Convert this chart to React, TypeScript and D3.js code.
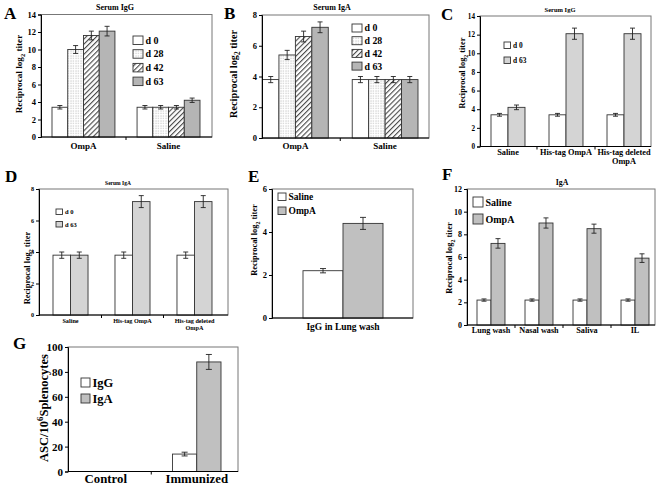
import React, { useEffect, useRef } from "react";
import * as d3 from "d3";

// ---------- DATA ----------
const seriesAB = ["d 0", "d 28", "d 42", "d 63"];
const groupsAB = ["OmpA", "Saline"];
const aValues = [[3.4, 10.0, 11.6, 12.1], [3.4, 3.4, 3.4, 4.2]];
const aErrors = [[0.2, 0.45, 0.5, 0.55], [0.2, 0.2, 0.2, 0.25]];
const bValues = [[3.8, 5.4, 6.6, 7.2], [3.8, 3.8, 3.8, 3.8]];
const bErrors = [[0.2, 0.3, 0.35, 0.35], [0.2, 0.2, 0.2, 0.2]];

const seriesCD = ["d 0", "d 63"];
const groupsCD = ["Saline", "His-tag OmpA", "His-tag deleted|OmpA"];
const cValues = [[3.4, 4.2], [3.4, 12.1], [3.4, 12.1]];
const cErrors = [[0.15, 0.25], [0.15, 0.6], [0.15, 0.6]];
const dValues = [[3.8, 3.8], [3.8, 7.2], [3.8, 7.2]];
const dErrors = [[0.2, 0.2], [0.2, 0.38], [0.2, 0.38]];

const seriesEF = ["Saline", "OmpA"];
const groupsE = ["IgG in Lung wash"];
const eValues = [[2.2, 4.4]];
const eErrors = [[0.1, 0.28]];
const groupsF = ["Lung wash", "Nasal wash", "Saliva", "IL"];
const fValues = [[2.2, 7.2], [2.2, 9.0], [2.2, 8.5], [2.2, 5.9]];
const fErrors = [[0.1, 0.42], [0.1, 0.45], [0.1, 0.4], [0.1, 0.38]];

const seriesG = ["IgG", "IgA"];
const groupsG = ["Control", "Immunized"];
const gValues = [[0, 0], [14, 88]];
const gErrors = [[0, 0], [1.5, 6]];

// ---------- LAYOUT ----------
const FONT = "'Liberation Serif', 'Times New Roman', serif";

type Panel = {
  letter: string; lx: number; ly: number; lsize: number;
  title?: string; tx?: number; ty?: number; tsize?: number;
  x0: number; x1: number; yTop: number; yBot: number; yMax: number; yStep: number;
  groups: string[]; series: string[]; values: number[][]; errors: number[][]; fills: string[];
  band: [number, number]; pad: number; cap: number;
  tickFont: number; ylab: "log" | "asc"; ylx: number; yly: number; ylsize: number;
  xly: number; xlsize: number; xlLine: number;
  leg: { x: number; y: number; dy: number; bw: number; bh: number; fs: number };
};

const panels: Panel[] = [
  {
    letter: "A", lx: 4, ly: 19, lsize: 17, title: "Serum IgG", tx: 115, ty: 10, tsize: 8,
    x0: 41, x1: 212, yTop: 14.5, yBot: 137, yMax: 14, yStep: 2,
    groups: groupsAB, series: seriesAB, values: aValues, errors: aErrors,
    fills: ["#fff", "url(#dots)", "url(#hatch)", "#b5b5b5"],
    band: [52, 200], pad: 0.26, cap: 5,
    tickFont: 8.5, ylab: "log", ylx: 22, yly: 74, ylsize: 9.2,
    xly: 149, xlsize: 9, xlLine: 10,
    leg: { x: 133, y: 36, dy: 13.7, bw: 10, bh: 8.5, fs: 10 },
  },
  {
    letter: "B", lx: 224, ly: 19, lsize: 17, title: "Serum IgA", tx: 332, ty: 10, tsize: 8,
    x0: 262, x1: 429, yTop: 15, yBot: 138, yMax: 8, yStep: 2,
    groups: groupsAB, series: seriesAB, values: bValues, errors: bErrors,
    fills: ["#fff", "url(#dots)", "url(#hatch)", "#b5b5b5"],
    band: [262.5, 418], pad: 0.267, cap: 5,
    tickFont: 8.5, ylab: "log", ylx: 237, yly: 74, ylsize: 10.3,
    xly: 149, xlsize: 9, xlLine: 10,
    leg: { x: 352, y: 24, dy: 12.7, bw: 10, bh: 8, fs: 9.8 },
  },
  {
    letter: "C", lx: 441, ly: 20, lsize: 17, title: "Serum IgG", tx: 560, ty: 12, tsize: 6.5,
    x0: 480, x1: 651, yTop: 16, yBot: 146.5, yMax: 14, yStep: 2,
    groups: groupsCD, series: seriesCD, values: cValues, errors: cErrors,
    fills: ["#fff", "#d4d4d4"],
    band: [491, 641], pad: 0.414, cap: 5,
    tickFont: 7.2, ylab: "log", ylx: 465, yly: 73, ylsize: 8.3,
    xly: 155, xlsize: 8.3, xlLine: 9,
    leg: { x: 504, y: 42, dy: 15, bw: 6.5, bh: 6.5, fs: 7.4 },
  },
  {
    letter: "D", lx: 5, ly: 182, lsize: 17, title: "Serum IgA", tx: 118, ty: 185, tsize: 5.5,
    x0: 39, x1: 228, yTop: 189, yBot: 315, yMax: 8, yStep: 2,
    groups: groupsCD, series: seriesCD, values: dValues, errors: dErrors,
    fills: ["#fff", "#d4d4d4"],
    band: [53, 212], pad: 0.435, cap: 5,
    tickFont: 6.2, ylab: "log", ylx: 30, yly: 268, ylsize: 8.5,
    xly: 323, xlsize: 6.2, xlLine: 7,
    leg: { x: 56, y: 209, dy: 12.5, bw: 6.5, bh: 5.5, fs: 6.5 },
  },
  {
    letter: "E", lx: 248, ly: 182, lsize: 17,
    x0: 272, x1: 413, yTop: 189, yBot: 318, yMax: 6, yStep: 2,
    groups: groupsE, series: seriesEF, values: eValues, errors: eErrors,
    fills: ["#fff", "#c0c0c0"],
    band: [303, 383], pad: 0, cap: 6,
    tickFont: 8.5, ylab: "log", ylx: 257, yly: 240, ylsize: 8.4,
    xly: 330, xlsize: 9.5, xlLine: 10,
    leg: { x: 278, y: 193, dy: 14, bw: 8, bh: 7.5, fs: 9.5 },
  },
  {
    letter: "F", lx: 442, ly: 180, lsize: 17, title: "IgA", tx: 562, ty: 185, tsize: 7.8,
    x0: 467, x1: 655, yTop: 189, yBot: 325, yMax: 12, yStep: 2,
    groups: groupsF, series: seriesEF, values: fValues, errors: fErrors,
    fills: ["#fff", "#c0c0c0"],
    band: [477, 649], pad: 0.417, cap: 5,
    tickFont: 8, ylab: "log", ylx: 452, yly: 258, ylsize: 8.4,
    xly: 333, xlsize: 8.2, xlLine: 10,
    leg: { x: 473, y: 197, dy: 17, bw: 10, bh: 10, fs: 10 },
  },
  {
    letter: "G", lx: 13, ly: 349, lsize: 17,
    x0: 68, x1: 238, yTop: 347, yBot: 471.5, yMax: 100, yStep: 20,
    groups: groupsG, series: seriesG, values: gValues, errors: gErrors,
    fills: ["#fff", "#c0c0c0"],
    band: [81.5, 221], pad: 0.467, cap: 6,
    tickFont: 11, ylab: "asc", ylx: 48, yly: 408, ylsize: 12.5,
    xly: 483, xlsize: 12.8, xlLine: 14,
    leg: { x: 81, y: 378, dy: 16, bw: 9, bh: 9, fs: 12.5 },
  },
];

function drawPanel(svg: d3.Selection<SVGSVGElement, unknown, null, undefined>, p: Panel) {
  const g = svg.append("g").attr("font-family", FONT).attr("font-weight", "bold");
  const y = d3.scaleLinear().domain([0, p.yMax]).range([p.yBot, p.yTop]);
  const xg = d3.scaleBand<string>().domain(p.groups).range(p.band).paddingInner(p.pad).paddingOuter(0);
  const xs = d3.scaleBand<string>().domain(p.series).range([0, xg.bandwidth()]);

  // frame
  g.append("rect").attr("x", p.x0).attr("y", p.yTop).attr("width", p.x1 - p.x0).attr("height", p.yBot - p.yTop)
    .attr("fill", "none").attr("stroke", "#777").attr("stroke-width", 1);

  // bars
  p.groups.forEach((grp, gi) => {
    p.series.forEach((s, si) => {
      const v = p.values[gi][si];
      if (!v) return;
      const bx = (xg(grp) as number) + (xs(s) as number);
      g.append("rect").attr("x", bx).attr("y", y(v)).attr("width", xs.bandwidth()).attr("height", y(0) - y(v))
        .attr("fill", p.fills[si]).attr("stroke", "#333").attr("stroke-width", 0.9);
      const e = p.errors[gi][si];
      if (e) {
        const cx = bx + xs.bandwidth() / 2;
        const eg = g.append("g").attr("stroke", "#222").attr("stroke-width", 0.9);
        eg.append("line").attr("x1", cx).attr("x2", cx).attr("y1", y(v + e)).attr("y2", y(v - e));
        eg.append("line").attr("x1", cx - p.cap / 2).attr("x2", cx + p.cap / 2).attr("y1", y(v + e)).attr("y2", y(v + e));
        eg.append("line").attr("x1", cx - p.cap / 2).attr("x2", cx + p.cap / 2).attr("y1", y(v - e)).attr("y2", y(v - e));
      }
    });
  });

  // y axis
  const ticks = d3.range(0, p.yMax + 0.001, p.yStep);
  const ya = g.append("g").attr("transform", `translate(${p.x0},0)`)
    .call(d3.axisLeft(y).tickValues(ticks).tickSize(3).tickPadding(2).tickFormat(d3.format("d")));
  ya.select(".domain").attr("stroke", "#000");
  ya.selectAll("text").attr("font-family", FONT).attr("font-weight", "bold").attr("font-size", p.tickFont).attr("fill", "#000");

  // x axis line + ticks between groups
  g.append("line").attr("x1", p.x0).attr("x2", p.x1).attr("y1", p.yBot).attr("y2", p.yBot).attr("stroke", "#000");
  for (let i = 1; i < p.groups.length; i++) {
    const prevEnd = (xg(p.groups[i - 1]) as number) + xg.bandwidth();
    const nextStart = xg(p.groups[i]) as number;
    const mx = (prevEnd + nextStart) / 2;
    g.append("line").attr("x1", mx).attr("x2", mx).attr("y1", p.yBot).attr("y2", p.yBot + 3).attr("stroke", "#000");
  }

  // x labels
  p.groups.forEach((grp) => {
    const cx = (xg(grp) as number) + xg.bandwidth() / 2;
    const lines = grp.split("|");
    const t = g.append("text").attr("text-anchor", "middle").attr("font-size", p.xlsize).attr("fill", "#000");
    lines.forEach((ln, li) => {
      t.append("tspan").attr("x", cx).attr("y", p.xly + li * p.xlLine).text(ln);
    });
  });

  // y label
  const yl = g.append("text").attr("transform", `translate(${p.ylx},${p.yly}) rotate(-90)`)
    .attr("text-anchor", "middle").attr("font-size", p.ylsize).attr("fill", "#000");
  if (p.ylab === "log") {
    yl.append("tspan").text("Reciprocal log");
    yl.append("tspan").attr("font-size", p.ylsize * 0.7).attr("dy", p.ylsize * 0.3).text("2");
    yl.append("tspan").attr("dy", -p.ylsize * 0.3).text(" titer");
  } else {
    yl.append("tspan").text("ASC/10");
    yl.append("tspan").attr("font-size", p.ylsize * 0.7).attr("dy", -p.ylsize * 0.4).text("6");
    yl.append("tspan").attr("dy", p.ylsize * 0.4).text("Splenocytes");
  }

  // title
  if (p.title) {
    g.append("text").attr("x", p.tx!).attr("y", p.ty!).attr("text-anchor", "middle")
      .attr("font-size", p.tsize!).attr("fill", "#000").text(p.title);
  }

  // letter
  g.append("text").attr("x", p.lx).attr("y", p.ly).attr("font-size", p.lsize).attr("fill", "#000").text(p.letter);

  // legend
  p.series.forEach((s, si) => {
    const ly = p.leg.y + si * p.leg.dy;
    g.append("rect").attr("x", p.leg.x).attr("y", ly).attr("width", p.leg.bw).attr("height", p.leg.bh)
      .attr("fill", p.fills[si]).attr("stroke", "#333").attr("stroke-width", 0.9);
    g.append("text").attr("x", p.leg.x + p.leg.bw + 2.5).attr("y", ly + p.leg.bh / 2).attr("dy", "0.35em")
      .attr("font-size", p.leg.fs).attr("fill", "#000").text(s);
  });
}

export default function App() {
  const ref = useRef<SVGSVGElement>(null);
  useEffect(() => {
    const svg = d3.select(ref.current as SVGSVGElement);
    svg.selectAll("*").remove();
    const defs = svg.append("defs");
    const dots = defs.append("pattern").attr("id", "dots").attr("patternUnits", "userSpaceOnUse")
      .attr("width", 2.5).attr("height", 2.5);
    dots.append("rect").attr("width", 2.5).attr("height", 2.5).attr("fill", "#fff");
    dots.append("rect").attr("x", 0.5).attr("y", 0.5).attr("width", 0.9).attr("height", 0.9).attr("fill", "#9a9a9a");
    const hatch = defs.append("pattern").attr("id", "hatch").attr("patternUnits", "userSpaceOnUse")
      .attr("width", 3.6).attr("height", 3.6).attr("patternTransform", "rotate(45)");
    hatch.append("rect").attr("width", 3.6).attr("height", 3.6).attr("fill", "#fff");
    hatch.append("line").attr("x1", 0.6).attr("x2", 0.6).attr("y1", 0).attr("y2", 3.6)
      .attr("stroke", "#333").attr("stroke-width", 1);
    panels.forEach((p) => drawPanel(svg, p));
  }, []);
  return (
    <svg ref={ref} width={662} height={486}
      style={{ position: "absolute", left: 0, top: 0, background: "#fff" }} />
  );
}
